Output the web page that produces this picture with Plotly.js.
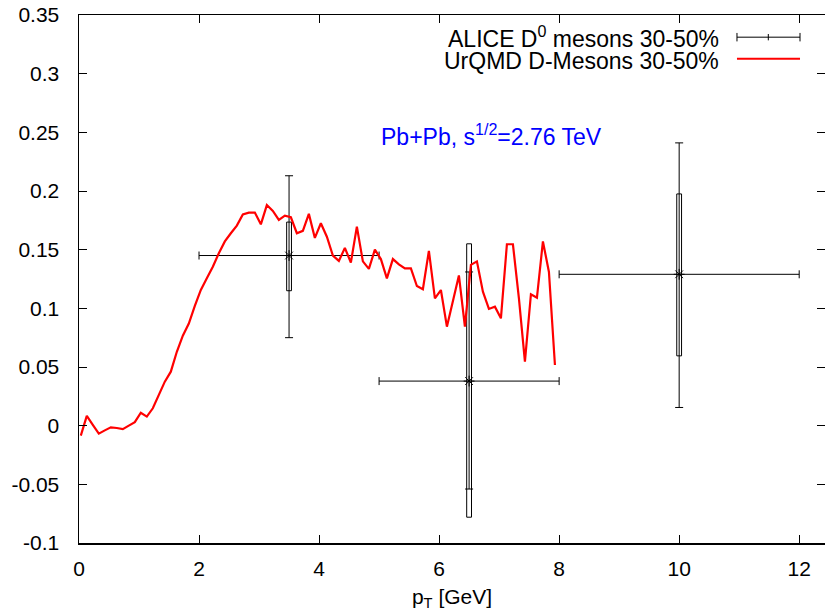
<!DOCTYPE html>
<html>
<head>
<meta charset="utf-8">
<script src="https://cdn.plot.ly/plotly-3.0.1.min.js"></script>
<style>html,body{margin:0;padding:0;background:#fff;}#plot{width:825px;height:613px;}</style>
</head>
<body>
<div id="plot"></div>
<script>
// UrQMD D-mesons 30-50% (red curve)
const urqmdPt = [0.03,0.13,0.23,0.33,0.43,0.53,0.63,0.73,0.83,0.93,
  1.03,1.13,1.23,1.33,1.43,1.53,1.63,1.73,1.83,1.93,
  2.03,2.13,2.23,2.33,2.43,2.53,2.63,2.73,2.83,2.93,
  3.03,3.13,3.23,3.33,3.43,3.53,3.63,3.73,3.83,3.93,
  4.03,4.13,4.23,4.33,4.43,4.53,4.63,4.73,4.83,4.93,
  5.03,5.13,5.23,5.33,5.43,5.53,5.63,5.73,5.83,5.93,
  6.03,6.13,6.23,6.33,6.43,6.53,6.63,6.73,6.83,6.93,
  7.03,7.13,7.23,7.33,7.43,7.53,7.63,7.73,7.83,7.93];
const urqmdV2 = [-0.0085,0.0083,0.0007,-0.0068,-0.004,-0.0014,-0.002,-0.003,0.000,0.003,
  0.011,0.0077,0.0148,0.026,0.0375,0.046,0.063,0.0767,0.087,0.102,
  0.1157,0.1256,0.1355,0.147,0.157,0.164,0.1705,0.180,0.1816,0.1816,
  0.1716,0.188,0.183,0.1754,0.179,0.1776,0.164,0.166,0.1805,0.160,
  0.1725,0.161,0.145,0.1404,0.1515,0.139,0.1696,0.140,0.1336,0.150,
  0.142,0.1256,0.142,0.1375,0.134,0.134,0.119,0.1163,0.149,0.1085,
  0.1156,0.0844,0.1057,0.128,0.0844,0.137,0.140,0.1142,0.0995,0.1014,
  0.0915,0.1546,0.1546,0.1085,0.0546,0.112,0.109,0.157,0.131,0.0517];

// ALICE D0 mesons 30-50%
const alicePt = [3.5, 6.5, 10];
const alicePtLow = [2, 5, 8];
const alicePtHigh = [5, 8, 12];
const aliceV2 = [0.145, 0.038, 0.129];
const aliceStatLow = [0.075, -0.054, 0.0155];
const aliceStatHigh = [0.213, 0.131, 0.241];
const aliceSysLow = [0.115, -0.078, 0.0595];
const aliceSysHigh = [0.1735, 0.155, 0.1975];

const yTickVals = [-0.1,-0.05,0,0.05,0.1,0.15,0.2,0.25,0.3,0.35];
const yTickText = ['-0.1','-0.05','0','0.05','0.1','0.15','0.2','0.25','0.3','0.35'];
const xTickVals = [0,2,4,6,8,10,12];

const FONT = 'Liberation Sans, Arial, sans-serif';

const traces = [
  {
    type: 'bar', x: alicePt,
    base: aliceSysLow,
    y: aliceSysHigh.map((h, i) => h - aliceSysLow[i]),
    width: 0.08,
    marker: {color: 'rgba(255,255,255,1)', line: {color: '#000', width: 1}},
    showlegend: false, hoverinfo: 'skip'
  },
  {
    type: 'scatter', mode: 'markers', x: alicePt, y: aliceV2,
    name: 'ALICE D<sup>0</sup> mesons 30-50%',
    marker: {symbol: 'asterisk-open', size: 9, color: '#000', line: {color: '#000', width: 1}},
    error_y: {type: 'data', symmetric: false,
      array: aliceStatHigh.map((h, i) => h - aliceV2[i]),
      arrayminus: aliceV2.map((v, i) => v - aliceStatLow[i]),
      color: '#000', thickness: 1, width: 4},
    error_x: {type: 'data', symmetric: false,
      array: alicePtHigh.map((h, i) => h - alicePt[i]),
      arrayminus: alicePt.map((v, i) => v - alicePtLow[i]),
      color: '#000', thickness: 1, width: 4},
    showlegend: false
  },
  {
    type: 'scatter', mode: 'lines', x: urqmdPt, y: urqmdV2,
    name: 'UrQMD D-Mesons 30-50%',
    line: {color: '#ff0000', width: 2.2},
    showlegend: false
  }
];

// legend drawn manually (sample to the right of the text, as in the reference)
const lx0 = 0.882, lx1 = 0.9665, lxm = 0.924;
const ly1 = 0.958, ly2 = 0.917;

const layout = {
  width: 825, height: 613,
  margin: {l: 79, r: 0, t: 15, b: 70, pad: 0},
  paper_bgcolor: '#fff', plot_bgcolor: '#fff',
  font: {family: FONT, size: 20, color: '#000'},
  showlegend: false,
  barmode: 'overlay',
  xaxis: {
    range: [0, 12.43], tickvals: xTickVals, ticks: 'inside', ticklen: 8, tickwidth: 1,
    tickcolor: '#000', showline: true, linecolor: '#000', linewidth: 1.5, mirror: 'ticks',
    showgrid: false, zeroline: false, ticklabelstandoff: 6,
    tickfont: {family: FONT, size: 21},
    title: {text: 'p<sub>T</sub> [GeV]', font: {family: FONT, size: 21}, standoff: 10}
  },
  yaxis: {
    range: [-0.1, 0.35], tickvals: yTickVals, ticktext: yTickText, ticks: 'inside', ticklen: 8, tickwidth: 1,
    tickcolor: '#000', showline: true, linecolor: '#000', linewidth: 1.5, mirror: 'ticks',
    showgrid: false, zeroline: false, ticklabelstandoff: 14,
    tickfont: {family: FONT, size: 21}
  },
  annotations: [
    {xref: 'x', yref: 'y', x: 6.88, y: 0.248, text: 'Pb+Pb, s<sup>1/2</sup>=2.76 TeV',
     showarrow: false, font: {family: FONT, size: 23, color: '#0000ff'}},
    {xref: 'paper', yref: 'paper', x: 0.861, y: ly1, xanchor: 'right', yanchor: 'middle',
     text: 'ALICE D<sup>0</sup> mesons 30-50%', showarrow: false, font: {family: FONT, size: 23}},
    {xref: 'paper', yref: 'paper', x: 0.861, y: ly2 - 0.004, xanchor: 'right', yanchor: 'middle',
     text: 'UrQMD D-Mesons 30-50%', showarrow: false, font: {family: FONT, size: 23}}
  ],
  shapes: [
    {type: 'line', xref: 'paper', yref: 'paper', x0: lx0, x1: lx1, y0: ly1, y1: ly1, line: {color: '#000', width: 1}},
    {type: 'line', xref: 'paper', yref: 'paper', x0: lx0, x1: lx0, y0: ly1 - 0.008, y1: ly1 + 0.008, line: {color: '#000', width: 1}},
    {type: 'line', xref: 'paper', yref: 'paper', x0: lx1, x1: lx1, y0: ly1 - 0.008, y1: ly1 + 0.008, line: {color: '#000', width: 1}},
    {type: 'line', xref: 'paper', yref: 'paper', x0: lxm, x1: lxm, y0: ly1 - 0.006, y1: ly1 + 0.006, line: {color: '#000', width: 1}},
    {type: 'line', xref: 'paper', yref: 'paper', x0: lx0, x1: lx1, y0: ly2, y1: ly2, line: {color: '#ff0000', width: 2}}
  ]
};

Plotly.newPlot('plot', traces, layout, {staticPlot: true, displayModeBar: false});
</script>
</body>
</html>
